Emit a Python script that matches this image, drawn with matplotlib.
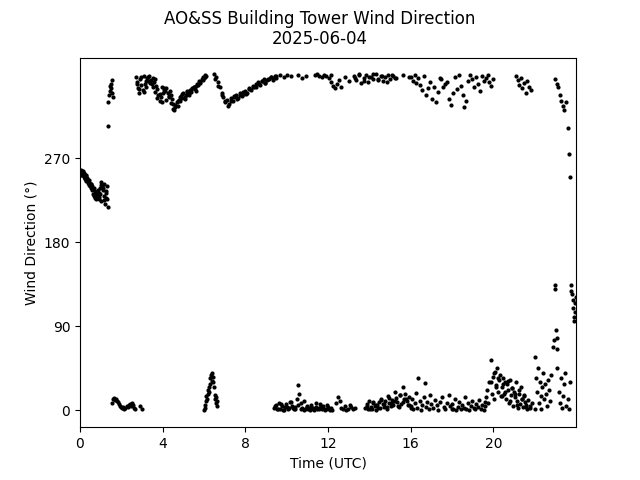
import numpy as np
import matplotlib.pyplot as plt

# Segments of the record: (start hour, end hour, directions in degrees)
seg_morning = (0.0, 1.35, [255, 258, 256, 252, 257, 254, 250, 248, 252, 246,
                           249, 244, 242, 247, 240, 238, 243, 236, 232, 238,
                           230, 228, 234, 226, 231, 236, 229, 233, 238, 242,
                           245, 240, 236, 230, 225, 221, 228, 233, 240, 218])
seg_morning_b = (0.05, 1.3, [252, 256, 253, 249, 251, 247, 245, 243, 240, 237,
                             235, 231, 229, 226, 232, 224, 238, 243, 235, 227])
seg_jump = (1.35, 1.6, [305, 330, 338, 342, 348, 345, 350, 354, 340, 336])
seg_low1 = (1.55, 2.65, [8, 12, 13, 11, 12, 10, 9, 7, 5, 4, 3, 4, 2, 3, 5, 4,
                         6, 7, 5, 8, 6, 3, 2])
seg_low1b = (2.9, 3.0, [5, 2])
seg_top1 = (2.7, 6.1, [357, 352, 345, 340, 355, 349, 343, 358, 350, 346,
                       356, 353, 358, 354, 350, 356, 352, 355,
                       348, 344, 338, 332, 336, 330, 340, 345, 342,
                       345, 340, 336, 342, 338,
                       334, 328, 322, 325, 330, 326, 333,
                       332, 337, 335, 340, 336, 338, 342, 339,
                       340, 343, 341, 345, 347, 344, 348, 350,
                       350, 353, 352, 355, 357, 356, 359, 358])
seg_top1_b = (2.75, 6.05, [350, 344, 357, 341, 353, 357, 351, 347, 341, 335,
                           339, 347, 343, 333, 337, 329, 323, 327, 331, 336,
                           339, 334, 341, 338, 343, 346, 342, 349, 351, 354,
                           357])
seg_low2 = (6.0, 6.65, [0, 3, 6, 10, 15, 12, 18, 22, 25, 20, 28, 35, 38, 32,
                        40, 36, 30, 25, 16, 12, 14, 8, 5, 10])
seg_top2 = (6.5, 9.5, [360, 357, 352, 346, 340, 336, 330, 333, 328, 335,
                       332, 336, 338, 335, 340, 337, 339, 342, 340, 345,
                       343, 348, 347, 350, 352, 349, 353, 355, 351, 354,
                       355, 357, 354, 358, 356])
seg_top2_b = (6.55, 9.4, [355, 348, 338, 332, 326, 331, 337, 334, 338, 341,
                          339, 344, 347, 346, 350, 353, 351, 355, 357, 356])
seg_top3 = (9.5, 10.2, [358, 359, 357, 359, 358])
seg_top4 = (10.55, 10.95, [359, 356, 358])
seg_top5 = (11.35, 12.15, [359, 360, 358, 357, 359, 358, 356, 359])
seg_top6 = (12.15, 12.65, [352, 348, 345, 350, 354, 346])
seg_top7 = (12.8, 13.0, [357, 353])
seg_top8 = (13.25, 15.25, [358, 354, 360, 351, 356, 359, 352, 357, 355, 360,
                           354, 358, 353, 357, 359, 355, 358, 356])
seg_top8_b = (13.3, 15.3, [356, 359, 353, 357, 360, 355, 358, 352, 359, 356])
seg_top9 = (15.65, 15.9, [359, 357])
seg_low3 = (9.4, 12.2, [3, 6, 1, 8, 2, 5, 0, 4, 7, 2, 3, 9, 5, 1, 4, 12, 27,
                        18, 8, 3, 0, 2, 5, 1, 3, 6, 2, 0, 4, 1, 3, 7, 2, 5, 0,
                        2, 4, 1, 3, 0])
seg_low3_b = (9.45, 12.1, [5, 2, 7, 0, 4, 9, 3, 1, 6, 2, 10, 4, 0, 3, 8, 2, 5,
                           1, 6, 0])
seg_low4 = (12.4, 13.3, [8, 14, 10, 3, 1, 5, 0, 2, 6, 4, 1, 3])
seg_low5 = (13.8, 16.0, [3, 7, 1, 10, 4, 2, 8, 5, 0, 6, 9, 3, 12, 7, 4, 10, 2,
                         15, 8, 5, 11, 6, 20, 13, 9, 4, 16, 7, 25, 12, 18, 10,
                         6, 14, 3])
seg_low5_b = (13.9, 15.9, [5, 2, 9, 6, 3, 11, 7, 4, 13, 8, 10, 5, 17, 9, 12, 6])
seg_top10 = (16.0, 20.0, [357, 353, 359, 351, 356, 349, 343, 358, 338, 345,
                          352, 334, 347, 330, 341, 356, 355, 346, 350, 352,
                          334, 327, 340, 357, 344, 359, 348, 338, 325, 331,
                          353, 359, 355, 346, 357, 350, 342, 358, 353, 356,
                          359, 352, 348, 355])
seg_low6 = (16.0, 17.0, [5, 12, 2, 8, 19, 3, 35, 10, 0, 6, 14, 29, 4, 9, 2, 16, 7])
seg_low7 = (17.1, 18.0, [3, 11, 6, 0, 9, 14, 4, 2, 8, 17, 5, 1])
seg_low8 = (18.0, 19.6, [7, 2, 12, 0, 4, 9, 1, 6, 3, 14, 2, 8, 0, 5, 10, 3, 1,
                         7, 4, 11, 2, 6, 0, 9])
seg_low9 = (19.6, 20.4, [5, 14, 22, 8, 30, 54, 18, 36, 12, 41, 27, 45, 20, 33,
                         38, 15])
seg_low10 = (20.4, 21.75, [25, 35, 18, 30, 12, 28, 22, 8, 33, 16, 24, 5, 20, 14,
                           30, 10, 3, 18, 7, 25, 12, 4, 15, 9, 6, 2, 11, 5])
seg_low10_b = (19.9, 21.6, [30, 40, 25, 35, 15, 28, 20, 32, 10, 24, 18, 6, 22,
                            12, 16, 4])
seg_low11 = (21.75, 22.0, [3, 8, 1])
seg_top11 = (21.1, 21.8, [358, 354, 349, 356, 345, 351, 340, 353, 347, 343])
seg_low12 = (22.0, 22.8, [57, 35, 20, 45, 8, 30, 15, 2, 25, 40, 12, 28, 18, 5,
                          33, 22, 10, 38])
seg_mid = (22.9, 23.1, [68, 75, 130, 134, 86, 78, 66])
seg_top12 = (23.0, 23.5, [355, 350, 347, 338, 332, 326, 322, 330])
seg_fall = (23.6, 23.7, [303, 275, 250])
seg_low13 = (23.1, 23.7, [45, 20, 8, 35, 3, 15, 28, 40, 5, 12, 2, 30])
seg_end = (23.75, 24.0, [134, 128, 125, 118, 110, 100, 96, 105, 115, 122])

segments = [seg_morning, seg_morning_b, seg_jump, seg_low1, seg_low1b,
            seg_top1, seg_top1_b, seg_low2, seg_top2, seg_top2_b, seg_top3,
            seg_top4, seg_top5, seg_top6, seg_top7, seg_top8, seg_top8_b,
            seg_top9, seg_low3, seg_low3_b, seg_low4, seg_low5, seg_low5_b,
            seg_top10, seg_low6, seg_low7, seg_low8, seg_low9, seg_low10,
            seg_low10_b, seg_low11, seg_top11, seg_low12, seg_mid, seg_top12,
            seg_fall, seg_low13, seg_end]

# regular sampling times inside each segment
hours = []
wdir = []
for start, end, vals in segments:
    hours.extend(np.linspace(start, end, len(vals)))
    wdir.extend(vals)

fig, ax = plt.subplots(figsize=(6.4, 4.8), dpi=100)
ax.scatter(hours, wdir, s=4, c='k')
ax.set_xlim(0, 24)
ax.set_ylim(-18, 378)
ax.set_xticks([0, 4, 8, 12, 16, 20])
ax.set_yticks([0, 90, 180, 270])
ax.set_xlabel('Time (UTC)')
ax.set_ylabel('Wind Direction (°)')
fig.suptitle('AO&SS Building Tower Wind Direction\n2025-06-04')
fig.savefig('out.png')
